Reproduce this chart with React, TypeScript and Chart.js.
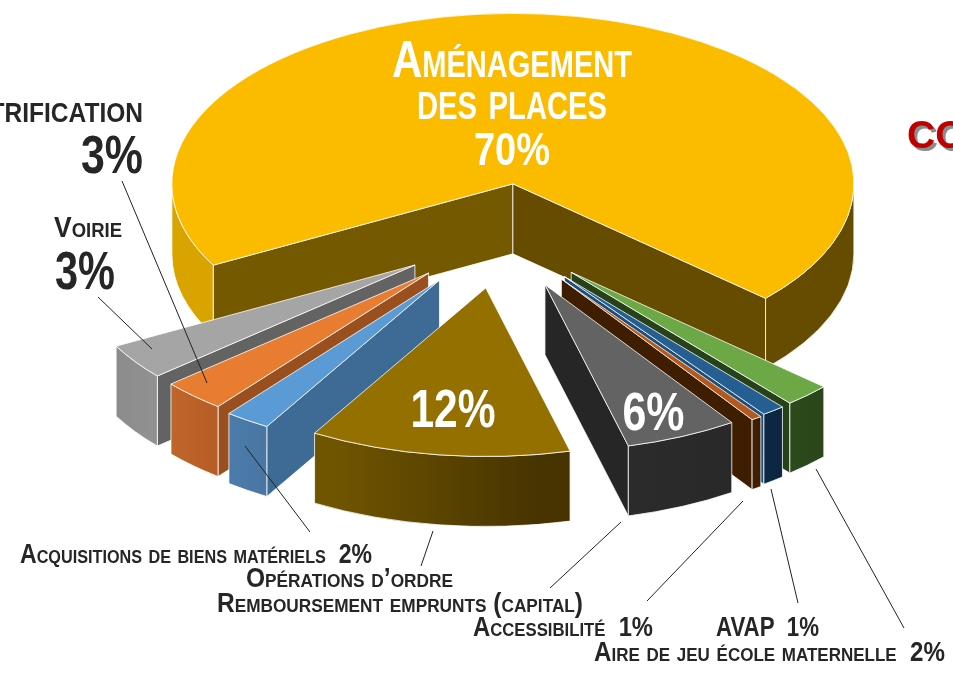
import React, { useEffect, useRef } from "react";
import { Chart, registerables } from "chart.js";

Chart.register(...registerables);

const categories = [
  "Aménagement des places",
  "Aire de jeu école maternelle",
  "AVAP",
  "Accessibilité",
  "Remboursement emprunts (capital)",
  "Opérations d'ordre",
  "Acquisitions de biens matériels",
  "Électrification",
  "Voirie",
];
const values = [69.6, 2.2, 1.1, 0.5, 5.45, 12.5, 2.15, 3.05, 3.4];

const topColors = ["#fbbc00", "#6ca845", "#255e91", "#b5591a", "#636363", "#947000", "#5b9bd5", "#e87c30", "#a5a5a5"];
const wallLeft = ["#daa400", "#2c4a1c", "#0d2844", "#421f00", "#2b2b2b", "#705500", "#4a7cab", "#c0652a", "#8c8c8c"];
const wallRight = ["#654c00", "#2a461a", "#0c2640", "#3f1d00", "#292929", "#473400", "#4a76a3", "#b85d25", "#919191"];
const cutColors = ["#745900", "#27421a", "#1f4e79", "#3f1d00", "#262626", "#5a4400", "#3e6b95", "#9a501e", "#636363"];
const endCutBig = "#654c00";
const explode = [104, 102, 104, 106, 108, 106, 108, 104, 104];
const radiusTrim = [1, 1, 0, 0, -7, -3, 0, 0, 0];
const drawOrder = [0, 8, 7, 6, 1, 2, 3, 4, 5];

const TILT = 0.5;
const DEPTH = 70;
const EDGE = "rgba(255,255,255,0.78)";
const DARK = "#262626";
const NARROW = '"Liberation Sans Narrow", "Liberation Sans", sans-serif';

type Label = { text: string; x: number; y: number; size: number; w?: number; align: CanvasTextAlign; color: string; caps: boolean };
const labels: Label[] = [
  { text: "Aménagement", x: 512, y: 77, size: 52, w: 240, align: "center", color: "#fff", caps: true },
  { text: "des places", x: 512, y: 119, size: 54, w: 190, align: "center", color: "#fff", caps: true },
  { text: "70%", x: 512, y: 165, size: 47, w: 76, align: "center", color: "#fff", caps: false },
  { text: "Électrification", x: 143, y: 122, size: 40, w: 226, align: "right", color: DARK, caps: true },
  { text: "3%", x: 143, y: 173, size: 54, w: 62, align: "right", color: DARK, caps: false },
  { text: "Voirie", x: 54, y: 237, size: 30, w: 68, align: "left", color: DARK, caps: true },
  { text: "3%", x: 55, y: 289, size: 54, w: 60, align: "left", color: DARK, caps: false },
  { text: "12%", x: 453, y: 427, size: 53, w: 85, align: "center", color: "#fff", caps: false },
  { text: "6%", x: 653.5, y: 430, size: 53, w: 62, align: "center", color: "#fff", caps: false },
  { text: "Acquisitions de biens matériels  2%", x: 20, y: 563, size: 27, w: 352, align: "left", color: DARK, caps: true },
  { text: "Opérations d’ordre", x: 246, y: 587, size: 27, w: 207, align: "left", color: DARK, caps: true },
  { text: "Remboursement emprunts (capital)", x: 217, y: 612, size: 27, w: 366, align: "left", color: DARK, caps: true },
  { text: "Accessibilité  1%", x: 473, y: 636, size: 27, w: 180, align: "left", color: DARK, caps: true },
  { text: "AVAP  1%", x: 716, y: 636, size: 27, w: 103, align: "left", color: DARK, caps: true },
  { text: "Aire de jeu école maternelle  2%", x: 594, y: 661, size: 27, w: 351, align: "left", color: DARK, caps: true },
];

const leaders: number[][] = [
  [98, 297, 152, 349],
  [122, 181, 207, 383],
  [245, 446, 310, 532],
  [433, 531, 421, 566],
  [621, 522, 550, 588],
  [743, 501, 647, 601],
  [771, 489, 798, 603],
  [816, 469, 904, 628],
];

const pie3d = {
  id: "pie3d",
  beforeDatasetDraw(chart: any) {
    const ctx: CanvasRenderingContext2D = chart.ctx;
    const arcs = chart.getDatasetMeta(0).data;
    ctx.save();
    ctx.lineWidth = 1;
    ctx.lineJoin = "round";
    ctx.strokeStyle = EDGE;
    for (const i of drawOrder) {
      const arc = arcs[i];
      const { x, y, startAngle: s, endAngle: e } = arc;
      const R = arc.outerRadius + radiusTrim[i];
      const mid = (s + e) / 2;
      const ax = x + Math.cos(mid) * explode[i];
      const ay = y + Math.sin(mid) * explode[i] * TILT;
      const px = (t: number) => ax + Math.cos(t) * R;
      const py = (t: number) => ay + Math.sin(t) * R * TILT;

      const face = (t: number, color: string) => {
        ctx.beginPath();
        ctx.moveTo(ax, ay);
        ctx.lineTo(px(t), py(t));
        ctx.lineTo(px(t), py(t) + DEPTH);
        ctx.lineTo(ax, ay + DEPTH);
        ctx.closePath();
        ctx.fillStyle = color;
        ctx.fill();
        ctx.stroke();
      };
      if (Math.cos(s) < 0) face(s, cutColors[i]);
      if (Math.cos(e) > 0) face(e, i === 0 ? endCutBig : cutColors[i]);

      const segs: number[][] = [];
      for (let k = -1; k < 3; k++) {
        const lo = Math.max(s, k * 2 * Math.PI);
        const hi = Math.min(e, k * 2 * Math.PI + Math.PI);
        if (hi > lo) segs.push([lo, hi]);
      }
      let xa = Infinity;
      let xb = -Infinity;
      for (const [lo, hi] of segs) {
        const samples = [px(lo), px(hi)];
        xa = Math.min(xa, ...samples);
        xb = Math.max(xb, ...samples);
      }
      if (i === 0) {
        xa = ax - R;
        xb = ax + R;
      }
      const g = ctx.createLinearGradient(xa, 0, xb, 0);
      g.addColorStop(0.07, wallLeft[i]);
      g.addColorStop(0.87, wallRight[i]);
      for (const [lo, hi] of segs) {
        ctx.beginPath();
        ctx.ellipse(ax, ay, R, R * TILT, 0, lo, hi);
        ctx.ellipse(ax, ay + DEPTH, R, R * TILT, 0, hi, lo, true);
        ctx.closePath();
        ctx.fillStyle = g;
        ctx.fill();
        ctx.stroke();
      }

      ctx.beginPath();
      ctx.moveTo(ax, ay);
      ctx.ellipse(ax, ay, R, R * TILT, 0, s, e);
      ctx.closePath();
      ctx.fillStyle = topColors[i];
      ctx.fill();
      ctx.stroke();
    }
    ctx.restore();
    return false;
  },
  afterDraw(chart: any) {
    const ctx: CanvasRenderingContext2D = chart.ctx;
    ctx.save();
    ctx.strokeStyle = "#222";
    ctx.lineWidth = 1;
    for (const [a, b, c, d] of leaders) {
      ctx.beginPath();
      ctx.moveTo(a, b);
      ctx.lineTo(c, d);
      ctx.stroke();
    }
    ctx.textBaseline = "alphabetic";
    for (const l of labels) {
      ctx.font = `${l.caps ? "small-caps " : ""}bold ${l.size}px ${NARROW}`;
      ctx.textAlign = l.align;
      ctx.fillStyle = l.color;
      ctx.fillText(l.text, l.x, l.y, l.w);
    }
    ctx.font = 'bold 39px "Liberation Sans", sans-serif';
    ctx.textAlign = "left";
    ctx.shadowColor = "#8c8c8c";
    ctx.shadowOffsetX = 3;
    ctx.shadowOffsetY = 3;
    ctx.shadowBlur = 0;
    ctx.fillStyle = "#c00000";
    ctx.fillText("COÛT", 907, 148);
    ctx.restore();
  },
};

export default function App() {
  const ref = useRef<HTMLCanvasElement>(null);
  useEffect(() => {
    const chart = new Chart(ref.current!, {
      type: "pie",
      data: {
        labels: categories,
        datasets: [{ data: values, backgroundColor: topColors, borderWidth: 0 }],
      },
      options: {
        responsive: false,
        animation: false,
        rotation: 241.5,
        radius: 340,
        layout: { padding: { left: 48, top: 0, right: 0, bottom: 204 } },
        plugins: { legend: { display: false }, tooltip: { enabled: false } },
      } as any,
      plugins: [pie3d],
    });
    return () => chart.destroy();
  }, []);
  return (
    <div style={{ position: "fixed", left: 0, top: 0, width: 953, height: 675, overflow: "hidden", background: "#fff" }}>
      <canvas ref={ref} width={953} height={675} style={{ display: "block" }} />
    </div>
  );
}
